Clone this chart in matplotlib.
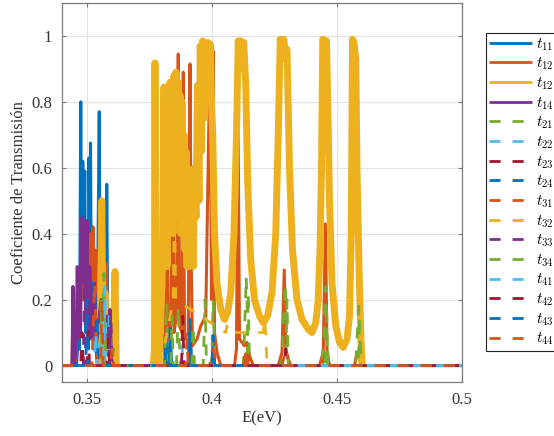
import matplotlib
matplotlib.use("Agg")
import matplotlib.pyplot as plt

plt.rcParams['font.family'] = ['Liberation Serif', 'DejaVu Serif']
plt.rcParams['mathtext.fontset'] = 'cm'

nan = float('nan')

# ---- data ----
labels = [r'$t_{11}$', r'$t_{12}$', r'$t_{12}$', r'$t_{14}$',
          r'$t_{21}$', r'$t_{22}$', r'$t_{23}$', r'$t_{24}$',
          r'$t_{31}$', r'$t_{32}$', r'$t_{33}$', r'$t_{34}$',
          r'$t_{41}$', r'$t_{42}$', r'$t_{43}$', r'$t_{44}$']

t11_E = [0.340, 0.3458, 0.3462, 0.3466, 0.3470, 0.3475, 0.3479, 0.3483, 0.3487, 0.3491, 0.3495,
         0.3500, 0.3505, 0.3508, 0.3511, 0.3514, 0.3518, 0.3522, 0.3526, 0.3535, 0.3540, 0.3549,
         0.3553, 0.3560, 0.3565, 0.3570, 0.3575, 0.3579, 0.3583, 0.3590, 0.3600, 0.3800, 0.3810,
         0.3815, 0.3820, 0.3828, 0.3833, 0.3838, 0.3905, 0.3912, 0.3918, 0.4000, 0.4005, 0.4010, 0.500]
t11_T = [0.0, 0.0, 0.05, 0.25, 0.05, 0.80, 0.20, 0.62, 0.30, 0.59, 0.10,
         0.20, 0.05, 0.63, 0.30, 0.675, 0.10, 0.42, 0.05, 0.10, 0.02, 0.77,
         0.10, 0.20, 0.05, 0.15, 0.08, 0.55, 0.10, 0.05, 0.0, 0.0, 0.0,
         0.13, 0.0, 0.0, 0.12, 0.0, 0.0, 0.14, 0.0, 0.0, 0.09, 0.0, 0.0]

t12_E = [0.340, 0.3440, 0.3443, 0.3447, 0.3455, 0.3460, 0.3465, 0.3470, 0.3475, 0.3480, 0.3485,
         0.3490, 0.3495, 0.3500, 0.3505, 0.3510, 0.3515, 0.3520, 0.3525, 0.3530, 0.3535, 0.3540,
         0.3545, 0.3550, 0.3555, 0.3560, 0.3565, 0.3570, 0.3578, 0.3583, 0.3590, 0.3595, 0.3605,
         0.3770, 0.3790, 0.3805, 0.3812, 0.3819, 0.3824, 0.3835, 0.3843, 0.3848, 0.3858, 0.3865,
         0.3870, 0.3880, 0.3885, 0.3890, 0.3905, 0.3912, 0.3917, 0.3922, 0.3940, 0.3955, 0.3975,
         0.3992, 0.3998, 0.4004, 0.4010, 0.4020, 0.4035, 0.4090, 0.4098, 0.4104, 0.4110, 0.4130,
         0.4140, 0.4150, 0.4165, 0.4265, 0.4280, 0.4289, 0.4295, 0.4305, 0.4315, 0.4430, 0.4445,
         0.4454, 0.4460, 0.4470, 0.4570, 0.4580, 0.4590, 0.4600, 0.500]
t12_T = [0.0, 0.0, 0.14, 0.0, 0.02, 0.10, 0.22, 0.16, 0.28, 0.20, 0.33,
         0.22, 0.30, 0.24, 0.36, 0.25, 0.40, 0.26, 0.42, 0.24, 0.35, 0.22,
         0.30, 0.20, 0.26, 0.18, 0.25, 0.15, 0.31, 0.06, 0.10, 0.03, 0.0,
         0.0, 0.03, 0.06, 0.10, 0.786, 0.08, 0.12, 0.745, 0.10, 0.15, 0.945,
         0.12, 0.10, 0.89, 0.08, 0.10, 0.915, 0.30, 0.06, 0.08, 0.12, 0.15,
         0.955, 0.20, 0.955, 0.10, 0.04, 0.0, 0.0, 0.05, 0.785, 0.08, 0.06,
         0.07, 0.03, 0.0, 0.0, 0.04, 0.29, 0.05, 0.02, 0.0, 0.0, 0.04,
         0.43, 0.04, 0.0, 0.0, 0.04, 0.02, 0.0, 0.0]

t13_E = [0.3548, 0.3553, 0.3559, 0.3564, 0.3572, 0.3578, 0.3606, 0.3612, 0.3617, 0.3690,
         0.3765, 0.3770, 0.3772, 0.3775, 0.3788, 0.3794, 0.3800, 0.3804, 0.3808, 0.3812,
         0.3816, 0.3820, 0.3824, 0.3828, 0.3832, 0.3836, 0.3840, 0.3844, 0.3848, 0.3852,
         0.3856, 0.3860, 0.3864, 0.3868, 0.3872, 0.3876, 0.3880, 0.3884, 0.3888, 0.3892,
         0.3896, 0.3900, 0.3904, 0.3908, 0.3912, 0.3916, 0.3920, 0.3925, 0.3930, 0.3936,
         0.3942, 0.3948, 0.3953, 0.3958, 0.3963, 0.3968, 0.3973, 0.3978, 0.3983, 0.3988,
         0.3993, 0.3998, 0.4003, 0.4010, 0.4020, 0.4035, 0.4050, 0.4062, 0.4075, 0.4088,
         0.4098, 0.4105, 0.4110, 0.4115, 0.4120, 0.4127, 0.4135, 0.4143, 0.4155, 0.4170,
         0.4190, 0.4205, 0.4222, 0.4240, 0.4255, 0.4265, 0.4273, 0.4280, 0.4287, 0.4293,
         0.4300, 0.4310, 0.4322, 0.4340, 0.4360, 0.4385, 0.4400, 0.4415, 0.4425, 0.4432,
         0.4438, 0.4443, 0.4450, 0.4458, 0.4463, 0.4470, 0.4480, 0.4495, 0.4510, 0.4525,
         0.4540, 0.4550, 0.4557, 0.4562, 0.4568, 0.4575, 0.4580, 0.4588, 0.4595, 0.4600]
t13_T = [0.0, 0.10, 0.50, 0.08, 0.22, 0.05, 0.06, 0.285, 0.0, nan,
         0.0, 0.05, 0.918, 0.05, 0.02, 0.12, 0.25, 0.50, 0.845, 0.35,
         0.60, 0.30, 0.70, 0.40, 0.86, 0.45, 0.75, 0.40, 0.88, 0.50,
         0.89, 0.45, 0.86, 0.50, 0.82, 0.40, 0.80, 0.45, 0.70, 0.35,
         0.65, 0.30, 0.60, 0.30, 0.55, 0.35, 0.50, 0.30, 0.60, 0.45,
         0.85, 0.50, 0.97, 0.65, 0.985, 0.75, 0.975, 0.80, 0.98, 0.85,
         0.975, 0.80, 0.70, 0.40, 0.25, 0.17, 0.14, 0.16, 0.22, 0.40,
         0.70, 0.985, 0.90, 0.985, 0.92, 0.98, 0.85, 0.55, 0.32, 0.20,
         0.15, 0.13, 0.15, 0.22, 0.40, 0.70, 0.99, 0.93, 0.99, 0.95,
         0.96, 0.60, 0.35, 0.20, 0.14, 0.11, 0.10, 0.13, 0.20, 0.35,
         0.60, 0.99, 0.985, 0.985, 0.80, 0.50, 0.25, 0.12, 0.07, 0.055,
         0.08, 0.15, 0.40, 0.99, 0.98, 0.93, 0.60, 0.30, 0.10, 0.0]

t14_E = [0.340, 0.3440, 0.3444, 0.3448, 0.3456, 0.3461, 0.3465, 0.3470, 0.3474, 0.3480, 0.3485,
         0.3490, 0.3494, 0.3500, 0.3505, 0.3512, 0.3518, 0.3530, 0.3536, 0.3556, 0.3562, 0.3580,
         0.3586, 0.3592, 0.3598, 0.3605, 0.500]
t14_T = [0.0, 0.0, 0.24, 0.0, 0.04, 0.30, 0.08, 0.30, 0.10, 0.45, 0.25,
         0.44, 0.15, 0.44, 0.10, 0.30, 0.08, 0.25, 0.05, 0.20, 0.05, 0.15,
         0.03, 0.17, 0.02, 0.0, 0.0]

t21_E = [0.340, 0.3550, 0.3556, 0.3560, 0.3568, 0.3573, 0.3600, 0.3605, 0.3610, 0.3810,
         0.3819, 0.3825, 0.3858, 0.3865, 0.3872, 0.3965, 0.3972, 0.3978, 0.3998, 0.4005, 0.4012,
         0.4125, 0.4130, 0.4137, 0.4143, 0.4150, 0.4278, 0.4285, 0.4293, 0.4300, 0.4307, 0.4440,
         0.4448, 0.4453, 0.4460, 0.4467, 0.4575, 0.4580, 0.4587, 0.4594, 0.4600, 0.500]
t21_T = [0.0, 0.0, 0.20, 0.0, 0.28, 0.0, 0.0, 0.05, 0.0, 0.0,
         0.19, 0.0, 0.0, 0.18, 0.0, 0.0, 0.20, 0.0, 0.0, 0.20, 0.0,
         0.0, 0.10, 0.27, 0.10, 0.0, 0.0, 0.12, 0.25, 0.10, 0.0, 0.0,
         0.10, 0.24, 0.08, 0.0, 0.0, 0.08, 0.18, 0.05, 0.0, 0.0]

t22_E = [0.340, 0.3540, 0.3545, 0.3550, 0.3567, 0.3572, 0.3577, 0.3585, 0.3590, 0.3595, 0.3875,
         0.3880, 0.3885, 0.500]
t22_T = [0.0, 0.0, 0.12, 0.0, 0.02, 0.24, 0.02, 0.03, 0.17, 0.0, 0.0,
         0.06, 0.0, 0.0]

t23_E = [0.340, 0.3500, 0.3505, 0.3510, 0.3580, 0.3585, 0.3590, 0.4135, 0.4140, 0.4145, 0.500]
t23_T = [0.0, 0.0, 0.12, 0.0, 0.0, 0.08, 0.0, 0.0, 0.04, 0.0, 0.0]

t24_E = [0.340, 0.3535, 0.3540, 0.3545, 0.3828, 0.3833, 0.3838, 0.3907, 0.3912, 0.3917, 0.4000,
         0.4005, 0.4010, 0.500]
t24_T = [0.0, 0.0, 0.15, 0.0, 0.0, 0.12, 0.0, 0.0, 0.14, 0.0, 0.0,
         0.09, 0.0, 0.0]

t31_E = [0.340, 0.3520, 0.3530, 0.3540, 0.3990, 0.4005, 0.4020, 0.4125, 0.4140, 0.4155, 0.4280,
         0.4295, 0.4310, 0.4440, 0.4455, 0.4470, 0.500]
t31_T = [0.0, 0.0, 0.25, 0.0, 0.0, 0.05, 0.0, 0.0, 0.06, 0.0, 0.0,
         0.05, 0.0, 0.0, 0.04, 0.0, 0.0]

t32_E = [0.340, 0.3785, 0.3790, 0.3795, 0.3845, 0.3850, 0.3855, 0.4055, 0.4060, 0.4065, 0.4205,
         0.4210, 0.4215, 0.4220, 0.500]
t32_T = [0.0, 0.0, 0.10, 0.0, 0.2, 0.50, 0.2, 0.1, 0.12, 0.1, 0.1,
         0.14, 0.1, 0.0, 0.0]

t33_E = [0.340, 0.3445, 0.3450, 0.3455, 0.3485, 0.3490, 0.3495, 0.3590, 0.3595, 0.3600, 0.500]
t33_T = [0.0, 0.0, 0.15, 0.0, 0.0, 0.25, 0.0, 0.0, 0.16, 0.0, 0.0]

t34_E = [0.340, 0.3565, 0.3570, 0.3575, 0.3835, 0.3840, 0.3845, 0.3920, 0.3925, 0.3930, 0.4140,
         0.4145, 0.4150, 0.4295, 0.4300, 0.4305, 0.4453, 0.4458, 0.4463, 0.4585, 0.4590, 0.4595, 0.500]
t34_T = [0.0, 0.0, 0.15, 0.0, 0.0, 0.15, 0.0, 0.0, 0.12, 0.0, 0.0,
         0.22, 0.0, 0.0, 0.20, 0.0, 0.0, 0.19, 0.0, 0.0, 0.12, 0.0, 0.0]

t41_E = [0.340, 0.3530, 0.3535, 0.3540, 0.3560, 0.3565, 0.3570, 0.500]
t41_T = [0.0, 0.0, 0.10, 0.0, 0.0, 0.18, 0.0, 0.0]

t42_E = [0.340, 0.3475, 0.3480, 0.3485, 0.3878, 0.3883, 0.3888, 0.4290, 0.4295, 0.4300, 0.500]
t42_T = [0.0, 0.0, 0.10, 0.0, 0.0, 0.15, 0.0, 0.0, 0.05, 0.0, 0.0]

t43_E = [0.340, 0.3495, 0.3500, 0.3505, 0.3812, 0.3817, 0.3822, 0.500]
t43_T = [0.0, 0.0, 0.20, 0.0, 0.0, 0.05, 0.0, 0.0]

t44_E = [0.340, 0.3555, 0.3560, 0.3565, 0.3595, 0.3600, 0.3605, 0.3895, 0.3900, 0.3905, 0.4135,
         0.4140, 0.4145, 0.500]
t44_T = [0.0, 0.0, 0.20, 0.0, 0.0, 0.05, 0.0, 0.0, 0.08, 0.0, 0.0,
         0.05, 0.0, 0.0]

series_E = [t11_E, t12_E, t13_E, t14_E, t21_E, t22_E, t23_E, t24_E,
            t31_E, t32_E, t33_E, t34_E, t41_E, t42_E, t43_E, t44_E]
series_T = [t11_T, t12_T, t13_T, t14_T, t21_T, t22_T, t23_T, t24_T,
            t31_T, t32_T, t33_T, t34_T, t41_T, t42_T, t43_T, t44_T]

colors = ['#0072BD', '#D95319', '#EDB120', '#7E2F8E', '#77AC30', '#4DBEEE', '#A2142F']
dash = (4.0, 4.3)

# ---- figure ----
fig = plt.figure(figsize=(5.54, 4.36), dpi=100)
ax = fig.add_axes([62/554, 1-382/436, 400/554, 379/436])

for i, (E, T, lab) in enumerate(zip(series_E, series_T, labels)):
    c = colors[i % 7]
    if i < 4:
        lw = 5.0 if i == 2 else 2.2
        ax.plot(E, T, color=c, lw=lw, label=lab, solid_capstyle='butt')
    else:
        off = 4.15 if i == 14 else 0.0
        ax.plot(E, T, color=c, lw=2.0, ls=(off, dash), label=lab)

ax.set_xlim(0.34, 0.5)
ax.set_ylim(-0.05, 1.1)
ax.set_xticks([0.35, 0.4, 0.45, 0.5])
ax.set_xticklabels(['0.35', '0.4', '0.45', '0.5'])
ax.set_yticks([0, 0.2, 0.4, 0.6, 0.8, 1.0])
ax.set_yticklabels(['0', '0.2', '0.4', '0.6', '0.8', '1'])
ax.grid(True, color='#e3e3e3', lw=0.8)
ax.set_axisbelow(True)
for s in ax.spines.values():
    s.set_color('#7a7a7a')
    s.set_linewidth(0.9)
ax.tick_params(direction='in', length=3, colors='#7a7a7a', labelcolor='#333333',
               labelsize=12, pad=7, top=True, right=True)
ax.set_xlabel('E(eV)', fontsize=12, color='#333333', labelpad=2)
ax.set_ylabel('Coeficiente de Transmisión', fontsize=12, color='#333333', labelpad=3)

leg = ax.legend(loc='upper left', bbox_to_anchor=(486/554, 1-33/436),
                bbox_transform=fig.transFigure, borderaxespad=0,
                fontsize=11, handlelength=2.8, handletextpad=0.25,
                labelspacing=0.2, borderpad=0.2, fancybox=False,
                framealpha=1, edgecolor='#222222')
leg.get_frame().set_linewidth(0.8)
for j, l in enumerate(leg.get_lines()):
    l.set_linewidth(2.0)
    if j >= 4:
        l.set_linestyle((0, dash))

fig.savefig('out.png', dpi=100)
